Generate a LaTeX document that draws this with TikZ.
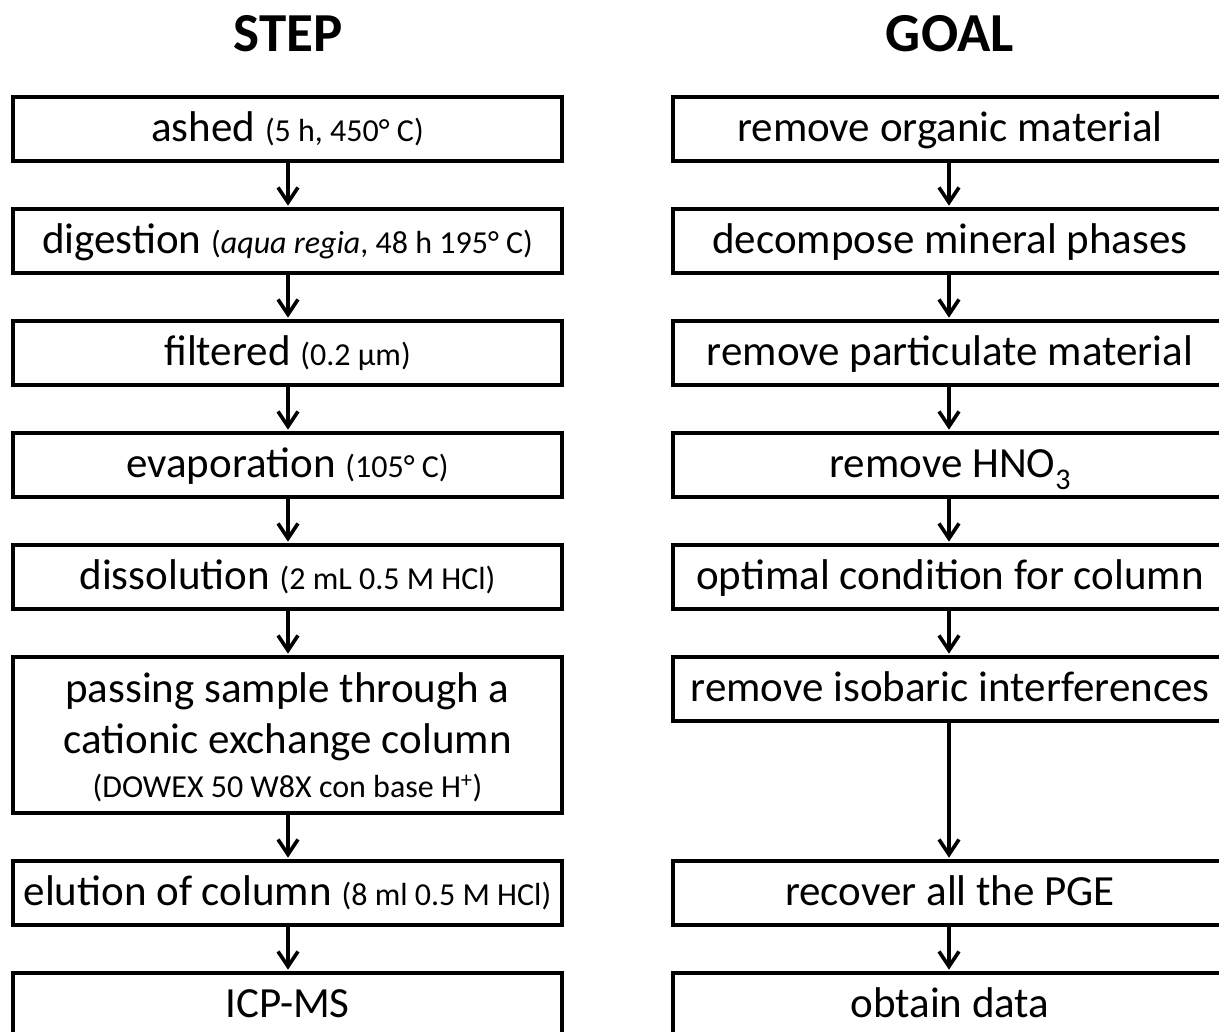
\documentclass[tikz,border=0pt]{standalone}
\usepackage{fontspec}
\setmainfont{Carlito}
\usetikzlibrary{arrows.meta}
\newcommand\smtxt[1]{{\fontsize{32}{37}\selectfont #1}}
\begin{document}
\begin{tikzpicture}[x=1pt,y=-1pt,
  box/.style={draw, line width=3.6pt, minimum height=64pt, inner sep=0pt,
    text height=30pt, text depth=4.6pt, font=\fontsize{43}{50}\selectfont},
  lbox/.style={box, minimum width=549pt},
  rbox/.style={box, minimum width=554pt},
  txt/.style={inner sep=0pt, anchor=base, font=\fontsize{43}{50}\selectfont},
  ttl/.style={inner sep=0pt, anchor=base, font=\fontsize{55}{62}\selectfont\bfseries},
  arr/.style={line width=3.6pt, -{Straight Barb[length=15pt,width=20pt]}, shorten >=1.5pt}]
\useasboundingbox (0,0) rectangle (1219,1032);
\clip (0,0) rectangle (1219,1032);
\fill[white] (0,0) rectangle (1219,1032);

\node[ttl] (tstep) at (288,52) {STEP};
\node[ttl] (tgoal) at (950,52) {GOAL};

% left column
\node[lbox] (l1) at (287.5,129) {ashed \smtxt{(5 h, 450° C)}};
\node[lbox] (l2) at (287.5,241) {digestion \smtxt{(\textit{aqua regia}, 48 h 195° C)}};
\node[lbox] (l3) at (287.5,353) {filtered \smtxt{(0.2 μm)}};
\node[lbox] (l4) at (287.5,465) {evaporation \smtxt{(105° C)}};
\node[lbox] (l5) at (287.5,577) {dissolution \smtxt{(2 mL 0.5 M HCl)}};
\node[lbox, minimum height=156pt] (l6) at (287.5,735) {};
\node[txt] (l6a) at (287.5,702) {passing sample through a};
\node[txt] (l6b) at (287.5,753) {cationic exchange column};
\node[txt] (l6c) at (287.5,797) {\smtxt{(DOWEX 50 W8X con base H\textsuperscript{+})}};
\node[lbox] (l7) at (287.5,893) {elution of column \smtxt{(8 ml 0.5 M HCl)}};
\node[lbox] (l8) at (287.5,1005) {ICP-MS};

% right column
\node[rbox] (r1) at (950,129) {remove organic material};
\node[rbox] (r2) at (950,241) {decompose mineral phases};
\node[rbox] (r3) at (950,353) {remove particulate material};
\node[rbox] (r4) at (950,465) {remove HNO\raisebox{-0.28em}{\fontsize{30}{34}\selectfont 3}};
\node[rbox] (r5) at (950,577) {optimal condition for column};
\node[rbox] (r6) at (950,689) {remove isobaric interferences};
\node[rbox] (r7) at (950,893) {recover all the PGE};
\node[rbox] (r8) at (950,1005) {obtain data};

\foreach \a/\b in {l1/l2,l2/l3,l3/l4,l4/l5,l5/l6,l6/l7,l7/l8}
  \draw[arr] ([xshift=0.5pt]\a.south) -- ([xshift=0.5pt]\b.north);
\foreach \a/\b in {r1/r2,r2/r3,r3/r4,r4/r5,r5/r6,r6/r7,r7/r8}
  \draw[arr] ([xshift=-1pt]\a.south) -- ([xshift=-1pt]\b.north);
\end{tikzpicture}
\end{document}
